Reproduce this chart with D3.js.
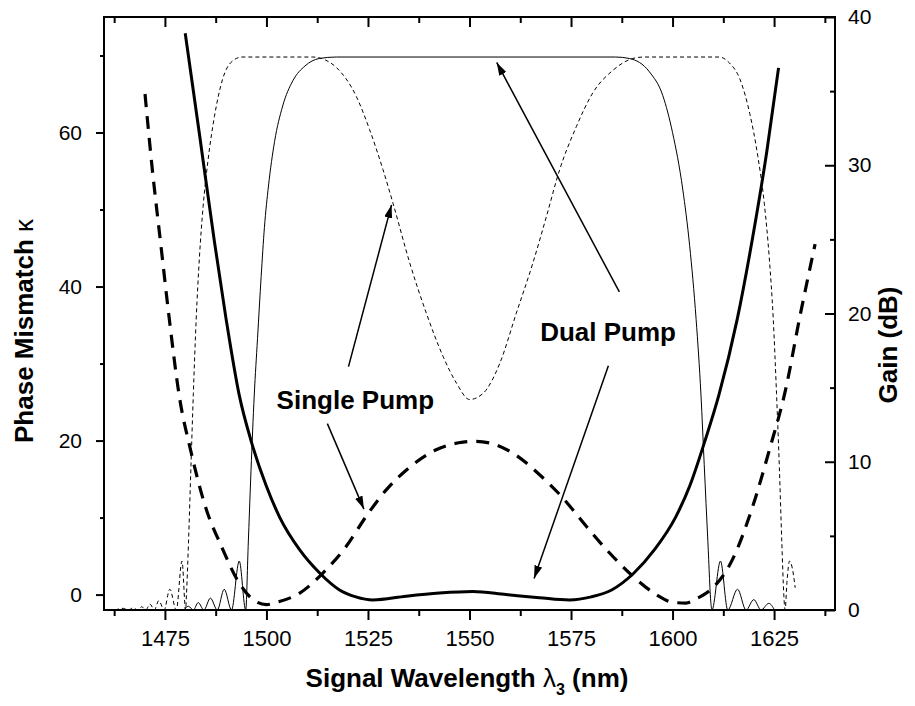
<!DOCTYPE html>
<html>
<head>
<meta charset="utf-8">
<script src="https://cdn.jsdelivr.net/npm/d3@7"></script>
<style>
  body { margin: 0; background: #fff; }
  svg { display: block; font-family: "Liberation Sans", Arial, sans-serif; }
</style>
</head>
<body>
<svg id="chart" width="915" height="706"></svg>
<script>
// wavelength (nm) / value pairs
const dualKappa = [
  [1480.0, 72.9], [1483.5, 59.8], [1487.2, 45.8], [1490.0, 36.0],
  [1493.3, 25.9], [1496.2, 20.0], [1499.9, 14.2], [1503.3, 10.0], [1508.2, 5.8],
  [1513.1, 2.8], [1518.0, 0.6], [1522.0, -0.3], [1526.2, -0.7], [1534.4, -0.2],
  [1542.6, 0.2], [1550.8, 0.4], [1559.0, 0.0], [1567.2, -0.4], [1574.6, -0.7],
  [1580.0, -0.3], [1585.0, 0.6], [1590.5, 2.8], [1595.5, 5.8], [1600.7, 10.0],
  [1604.3, 14.2], [1608.0, 20.0], [1611.4, 25.9], [1615.9, 35.7], [1619.7, 46.3],
  [1623.2, 57.5], [1626.1, 68.4]
];
const singleKappa = [
  [1470.1, 65.0], [1471.9, 55.2], [1474.0, 45.4], [1476.1, 35.7], [1478.5, 25.9],
  [1481.4, 18.6], [1485.1, 11.2], [1488.8, 6.4], [1493.3, 1.5], [1496.6, -0.6],
  [1500.0, -1.3], [1502.5, -1.0], [1508.2, 0.2], [1513.9, 2.8], [1519.7, 6.3],
  [1524.6, 10.2], [1529.5, 13.6], [1535.2, 16.5], [1541.8, 18.8], [1548.4, 19.8],
  [1551.5, 19.9], [1554.9, 19.7], [1560.6, 18.4], [1567.2, 15.6], [1572.9, 12.6],
  [1578.7, 8.9], [1584.5, 5.4], [1590.2, 2.4], [1596.0, 0.0], [1600.0, -1.0],
  [1603.3, -1.1], [1606.0, -0.5], [1609.1, 0.5], [1614.8, 4.6], [1619.7, 11.4],
  [1623.8, 18.7], [1628.0, 27.0], [1631.2, 35.7], [1635.1, 45.5]
];
const singleGain = [
  [1462.7, 0], [1464.8, 0.11], [1466.0, 0], [1467.2, 0.15], [1468.3, 0],
  [1469.3, 0.22], [1470.3, 0], [1471.3, 0.4], [1472.4, 0], [1473.5, 0.63],
  [1474.8, 0], [1476.2, 1.4], [1477.8, 0], [1479.2, 3.3], [1480.1, 0],
  [1480.3, 1.0], [1480.8, 4.5], [1481.4, 9.6], [1482.0, 14.6], [1482.7, 19.6],
  [1483.5, 23.8], [1484.4, 27.2], [1485.6, 30.3], [1487.2, 33.3], [1489.2, 35.8],
  [1491.5, 37.0], [1494.0, 37.3], [1511.4, 37.3], [1514.5, 37.1], [1517.2, 36.6],
  [1522.2, 34.6], [1525.4, 32.4], [1528.7, 29.7], [1531.2, 27.4], [1535.3, 23.4],
  [1539.4, 20.0], [1543.5, 17.1], [1546.8, 15.3], [1550.0, 14.2], [1553.3, 14.6],
  [1557.4, 16.6], [1561.5, 20.0], [1565.6, 23.4], [1568.9, 26.5], [1572.2, 29.7],
  [1576.3, 32.6], [1580.4, 34.9], [1585.3, 36.4], [1590.2, 37.2], [1593.0, 37.3],
  [1611.5, 37.3], [1614.0, 36.9], [1616.6, 35.8], [1619.0, 33.5], [1621.0, 30.6],
  [1622.6, 27.4], [1623.8, 23.8], [1624.8, 19.6], [1625.6, 14.6], [1626.3, 9.6],
  [1626.9, 4.6], [1627.4, 1.0], [1627.7, 0], [1628.2, 2.0], [1628.8, 3.3],
  [1629.5, 2.8], [1630.2, 1.5]
];
const dualGain = [
  [1479.6, 0], [1480.8, 0.25], [1482.0, 0], [1483.2, 0.5], [1484.6, 0],
  [1486.2, 0.8], [1487.9, 0], [1489.6, 1.4], [1491.4, 0], [1493.3, 3.3],
  [1494.9, 0], [1495.5, 4.3], [1496.2, 9.4], [1497.0, 14.5], [1497.8, 18.3],
  [1498.7, 22.5], [1499.5, 25.8], [1500.5, 28.6], [1502.0, 31.6], [1504.0, 34.0],
  [1506.5, 35.7], [1509.5, 36.7], [1513.0, 37.2], [1517.2, 37.3], [1586.0, 37.3],
  [1589.4, 37.2], [1594.3, 36.3], [1597.6, 34.7], [1600.0, 32.2], [1602.5, 28.4],
  [1604.2, 24.6], [1605.8, 19.6], [1607.0, 14.5], [1607.8, 9.8], [1608.7, 4.6],
  [1609.5, 0.3], [1609.7, 0], [1611.8, 3.3], [1613.6, 0], [1616.0, 1.4],
  [1618.1, 0], [1620.0, 0.7], [1621.8, 0], [1623.7, 0.45], [1625.1, 0]
];

const xMajor = [1475, 1500, 1525, 1550, 1575, 1600, 1625];
const xMinor = [1462.5, 1487.5, 1512.5, 1537.5, 1562.5, 1587.5, 1612.5, 1637.5];
const kappaMajor = [0, 20, 40, 60];
const kappaMinor = [10, 30, 50, 70];
const gainMajor = [0, 10, 20, 30, 40];
const gainMinor = [5, 15, 25, 35];

// annotations: [label, wavelength, kappa] and arrows [[x0,k0],[x1,k1]]
const labels = [["Single Pump", 1502.5, 24.1], ["Dual Pump", 1567.4, 32.9]];
const arrows = [
  [[1520.2, 29.6], [1530.8, 50.6]],
  [[1515.0, 22.2], [1524.0, 11.1]],
  [[1586.9, 39.3], [1556.7, 69.1]],
  [[1584.2, 29.7], [1565.9, 2.1]]
];

const plotLeft = 104, plotRight = 835, plotTop = 17, plotBottom = 610;

const svg = d3.select("#chart");

const x = d3.scaleLinear().domain([1460, 1640]).range([plotLeft, plotRight]);
const yK = d3.scaleLinear().domain([-2, 75]).range([plotBottom, plotTop]);
const yG = d3.scaleLinear().domain([0, 40]).range([plotBottom, plotTop]);

function styleAxis(g, fontSize) {
  g.select(".domain").remove();
  g.selectAll(".tick line").attr("stroke", "#000").attr("stroke-width", 2);
  g.selectAll(".tick text")
    .attr("fill", "#000")
    .style("font-size", fontSize + "px")
    .style("font-family", '"Liberation Sans", Arial, sans-serif');
}

// bottom axis
svg.append("g")
  .attr("transform", `translate(0,${plotBottom})`)
  .call(d3.axisBottom(x).tickValues(xMajor).tickSize(10).tickPadding(10).tickFormat(d3.format("d")))
  .call(g => styleAxis(g, 22));
svg.append("g")
  .attr("transform", `translate(0,${plotBottom})`)
  .call(d3.axisBottom(x).tickValues(xMinor).tickSize(6).tickFormat(""))
  .call(g => styleAxis(g, 22));

// top axis (inward ticks)
svg.append("g")
  .attr("transform", `translate(0,${plotTop})`)
  .call(d3.axisTop(x).tickValues(xMajor).tickSize(-10).tickFormat(""))
  .call(g => styleAxis(g, 22));
svg.append("g")
  .attr("transform", `translate(0,${plotTop})`)
  .call(d3.axisTop(x).tickValues(xMinor).tickSize(-6).tickFormat(""))
  .call(g => styleAxis(g, 22));

// left axis
svg.append("g")
  .attr("transform", `translate(${plotLeft},0)`)
  .call(d3.axisLeft(yK).tickValues(kappaMajor).tickSize(8).tickPadding(14))
  .call(g => styleAxis(g, 21));
svg.append("g")
  .attr("transform", `translate(${plotLeft},0)`)
  .call(d3.axisLeft(yK).tickValues(kappaMinor).tickSize(4).tickFormat(""))
  .call(g => styleAxis(g, 21));

// right axis (inward ticks)
svg.append("g")
  .attr("transform", `translate(${plotRight},0)`)
  .call(d3.axisRight(yG).tickValues(gainMajor).tickSize(-10).tickPadding(13))
  .call(g => styleAxis(g, 21));
svg.append("g")
  .attr("transform", `translate(${plotRight},0)`)
  .call(d3.axisRight(yG).tickValues(gainMinor).tickSize(-5).tickFormat(""))
  .call(g => styleAxis(g, 21));

// curves
const lineK = d3.line().x(d => x(d[0])).y(d => yK(d[1])).curve(d3.curveMonotoneX);
const lineG = d3.line().x(d => x(d[0])).y(d => yG(d[1])).curve(d3.curveMonotoneX);

svg.append("path").datum(singleGain)
  .attr("d", lineG).attr("fill", "none").attr("stroke", "#000")
  .attr("stroke-width", 1).attr("stroke-dasharray", "4,3");

svg.append("path").datum(dualGain)
  .attr("d", lineG).attr("fill", "none").attr("stroke", "#000")
  .attr("stroke-width", 1);

svg.append("path").datum(singleKappa)
  .attr("d", lineK).attr("fill", "none").attr("stroke", "#000")
  .attr("stroke-width", 3.2).attr("stroke-dasharray", "13,9");

svg.append("path").datum(dualKappa)
  .attr("d", lineK).attr("fill", "none").attr("stroke", "#000")
  .attr("stroke-width", 3);

// arrows
svg.append("defs").append("marker")
  .attr("id", "head")
  .attr("viewBox", "0 0 13 8")
  .attr("refX", 13).attr("refY", 4)
  .attr("markerWidth", 13).attr("markerHeight", 8)
  .attr("markerUnits", "userSpaceOnUse")
  .attr("orient", "auto")
  .append("path").attr("d", "M0,0L13,4L0,8Z").attr("fill", "#000");

svg.selectAll(".arrow")
  .data(arrows)
  .enter().append("line")
  .attr("class", "arrow")
  .attr("x1", d => x(d[0][0])).attr("y1", d => yK(d[0][1]))
  .attr("x2", d => x(d[1][0])).attr("y2", d => yK(d[1][1]))
  .attr("stroke", "#000").attr("stroke-width", 1.5)
  .attr("marker-end", "url(#head)");

svg.selectAll(".note")
  .data(labels)
  .enter().append("text")
  .attr("class", "note")
  .attr("x", d => x(d[1])).attr("y", d => yK(d[2]))
  .attr("font-size", 26).attr("font-weight", "bold")
  .text(d => d[0]);

// plot frame, drawn last so it sits on top
const [x0, x1] = x.range();
const [y0, y1] = yK.range();
svg.append("path")
  .attr("d", `M${x0},${y1}H${x1}V${y0}H${x0}Z`)
  .attr("fill", "none")
  .attr("stroke", "black")
  .attr("stroke-width", 2.2)
  .attr("shape-rendering", "crispEdges");

// axis titles
svg.append("text")
  .attr("transform", "translate(33,331) rotate(-90)")
  .attr("text-anchor", "middle")
  .attr("font-size", 26).attr("font-weight", "bold")
  .text("Phase Mismatch ")
  .append("tspan").attr("font-weight", "normal").text("\u03BA");

svg.append("text")
  .attr("transform", "translate(897,345) rotate(-90)")
  .attr("text-anchor", "middle")
  .attr("font-size", 26).attr("font-weight", "bold")
  .text("Gain (dB)");

const xt = svg.append("text")
  .attr("x", 467).attr("y", 687)
  .attr("text-anchor", "middle")
  .attr("font-size", 26).attr("font-weight", "bold");
xt.append("tspan").text("Signal Wavelength ");
xt.append("tspan").attr("font-weight", "normal").text("\u03BB");
xt.append("tspan").attr("font-size", 16).attr("dy", 8).text("3");
xt.append("tspan").attr("dy", -8).text(" (nm)");
</script>
</body>
</html>
